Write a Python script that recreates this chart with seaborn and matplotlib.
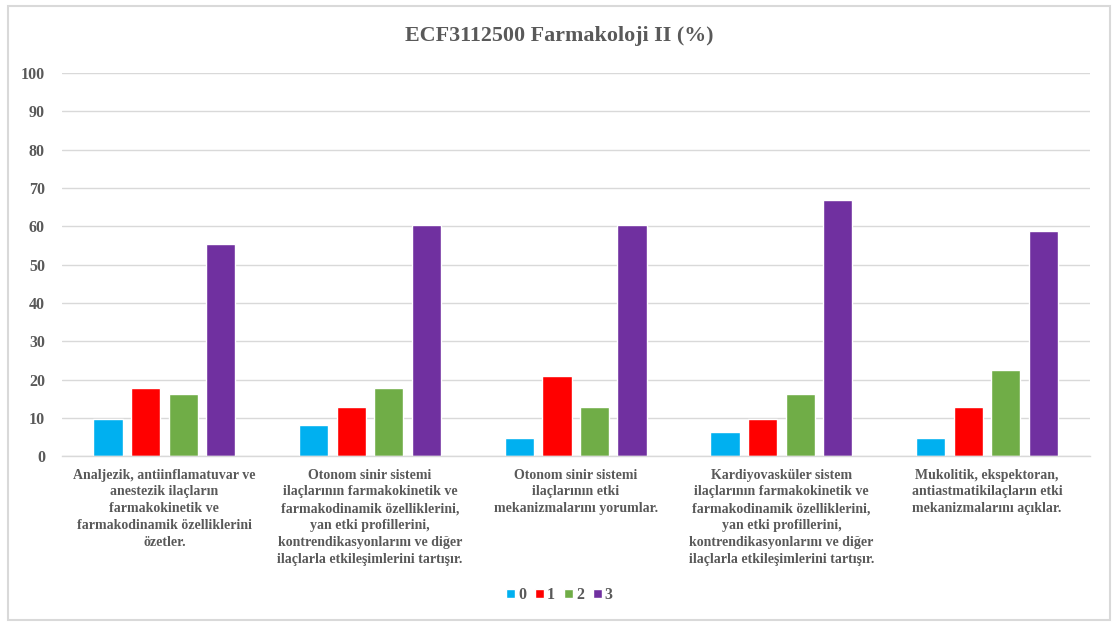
import pandas as pd
import seaborn as sns
import matplotlib.pyplot as plt
from matplotlib.patches import Rectangle

categories = [
    "Analjezik, antiinflamatuvar ve\nanestezik ilaçların\nfarmakokinetik ve\nfarmakodinamik özelliklerini\nözetler.",
    "Otonom sinir sistemi\nilaçlarının farmakokinetik ve\nfarmakodinamik özelliklerini,\nyan etki profillerini,\nkontrendikasyonlarını ve diğer\nilaçlarla etkileşimlerini tartışır.",
    "Otonom sinir sistemi\nilaçlarının etki\nmekanizmalarını yorumlar.",
    "Kardiyovasküler sistem\nilaçlarının farmakokinetik ve\nfarmakodinamik özelliklerini,\nyan etki profillerini,\nkontrendikasyonlarını ve diğer\nilaçlarla etkileşimlerini tartışır.",
    "Mukolitik, ekspektoran,\nantiastmatikilaçların etki\nmekanizmalarını açıklar.",
]
series = ["0", "1", "2", "3"]
vals_0 = [9.7, 8.1, 4.8, 6.4, 4.8]
vals_1 = [17.7, 12.9, 21.0, 9.7, 12.9]
vals_2 = [16.1, 17.7, 12.9, 16.1, 22.6]
vals_3 = [55.5, 60.3, 60.3, 66.9, 58.7]
colors = ["#00B0F0", "#FF0000", "#70AD47", "#7030A0"]

rows = []
for s, vals in zip(series, [vals_0, vals_1, vals_2, vals_3]):
    for c, v in zip(categories, vals):
        rows.append({"cat": c, "series": s, "value": v})
df = pd.DataFrame(rows)

sns.set_style("white")
plt.rcParams['font.family'] = ['Liberation Serif', 'DejaVu Serif']
gray = "#595959"

fig = plt.figure(figsize=(11.19, 6.24), dpi=100)
ax = fig.add_axes([0.055, 0.269, 0.919, 0.614])

sns.barplot(data=df, x="cat", y="value", hue="series", palette=colors,
            width=0.73, gap=0.22, ax=ax, saturation=1, legend=True)

ax.set_ylim(0, 100)
ax.set_yticks(range(0, 101, 10))
ax.grid(axis="y", color="#D9D9D9", linewidth=1)
ax.set_axisbelow(True)
for side in ["left", "right", "top"]:
    ax.spines[side].set_visible(False)
ax.spines["bottom"].set_color("#D9D9D9")
ax.spines["bottom"].set_linewidth(1)
ax.set_xlabel("")
ax.set_ylabel("")
ax.tick_params(axis="both", length=0, colors=gray)
for lab in ax.get_yticklabels():
    lab.set_fontweight("bold")
    lab.set_fontsize(11.5)
ax.tick_params(axis="y", pad=12)
ax.tick_params(axis="x", pad=9)
for lab in ax.get_xticklabels():
    lab.set_fontweight("bold")
    lab.set_fontsize(10)
    lab.set_linespacing(1.38)

fig.text(0.5, 0.943, "ECF3112500 Farmakoloji II (%)", ha="center", va="center",
         fontsize=15.8, fontweight="bold", color=gray)

handles, labels = ax.get_legend_handles_labels()
ax.legend_.remove()
fig.legend(handles, labels, loc="center", bbox_to_anchor=(0.5, 0.046), ncol=4,
           frameon=False, handlelength=0.55, handleheight=0.55, handletextpad=0.2,
           columnspacing=0.55, prop={"weight": "bold", "size": 11.5}, labelcolor=gray)

fig.patches.append(Rectangle((0.007, 0.006), 0.985, 0.985, transform=fig.transFigure,
                             fill=False, edgecolor="#D9D9D9", linewidth=1.5))

fig.savefig("out.png", dpi=100)
